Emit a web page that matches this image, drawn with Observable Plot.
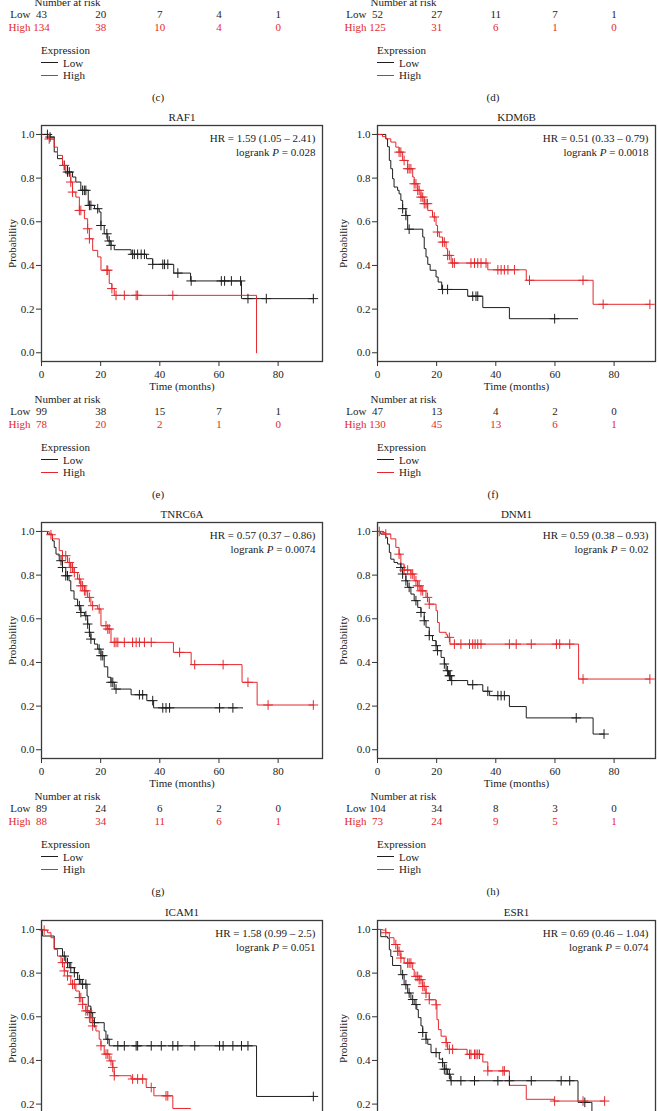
<!DOCTYPE html>
<html><head><meta charset="utf-8">
<script src="https://cdn.jsdelivr.net/npm/d3@7"></script>
<script src="https://cdn.jsdelivr.net/npm/@observablehq/plot@0.6"></script>
<style>
body{margin:0;background:#fff;}
#page{position:relative;width:659px;height:1111px;overflow:hidden;background:#fff;font-family:"Liberation Serif","Times New Roman",serif;color:#222;}
.legend{position:absolute;font-size:11px;line-height:12.5px;white-space:nowrap;}
.legend .row{display:flex;align-items:center;}
.legend .sw{display:inline-block;width:17px;height:0;border-top:1.2px solid;margin-right:5px;}
.plabel{position:absolute;font-size:11px;transform:translateX(-50%);}
</style></head><body><div id="page"></div>
<script>
const RED = "#e5282d", BLACK = "#1e1e1e";
const timeTicks = [0, 20, 40, 60, 80];
const probTicks = [0, 0.2, 0.4, 0.6, 0.8, 1.0];
const groupNames = ["Low", "High"];

// ---- at-risk tables ----
const riskC_low = [43, 20, 7, 4, 1], riskC_high = [134, 38, 10, 4, 0];
const riskD_low = [52, 27, 11, 7, 1], riskD_high = [125, 31, 6, 1, 0];
const riskE_low = [99, 38, 15, 7, 1], riskE_high = [78, 20, 2, 1, 0];
const riskF_low = [47, 13, 4, 2, 0], riskF_high = [130, 45, 13, 6, 1];
const riskG_low = [89, 24, 6, 2, 0], riskG_high = [88, 34, 11, 6, 1];
const riskH_low = [104, 34, 8, 3, 0], riskH_high = [73, 24, 9, 5, 1];

// ---- RAF1 ----
const raf1Low = [[0,1],[2.9,0.988],[4.3,0.92],[5.4,0.889],[7.1,0.858],[8.8,0.828],[10.5,0.805],[11.6,0.782],[13.3,0.744],[15.8,0.675],[17.9,0.66],[19.5,0.645],[20.1,0.583],[21.2,0.545],[22.4,0.512],[23.5,0.492],[24.6,0.472],[30.3,0.451],[35.5,0.431],[37.6,0.405],[44.7,0.365],[50.4,0.329],[67.6,0.248],[91.9,0.248]];
const raf1LowCens = [2.0,2.9,7.7,8.8,9.4,13.9,14.5,15.0,16.2,16.7,19.0,20.1,22.1,22.9,23.5,30.8,31.4,32.5,33.7,34.8,37.6,41.0,41.6,42.7,46.1,50.6,60.8,61.9,64.2,67.3,69.8,76.0,91.9];
const raf1High = [[0,1],[2.6,0.979],[4.3,0.942],[5.4,0.904],[7.1,0.858],[8.2,0.82],[9.9,0.782],[10.5,0.736],[11.6,0.713],[12.8,0.652],[14.5,0.614],[15.6,0.568],[16.2,0.522],[17.3,0.469],[19.0,0.439],[20.1,0.378],[22.9,0.317],[23.8,0.294],[24.6,0.263],[72.7,0]];
const raf1HighCens = [2.6,7.7,9.9,10.5,12.8,13.3,15.6,16.2,22.1,22.4,23.8,25.2,28.0,32.0,32.5,44.4];

// ---- KDM6B ----
const kdm6bLow = [[0,1],[2.8,0.98],[3.4,0.944],[4.0,0.881],[4.5,0.843],[5.1,0.797],[5.6,0.759],[6.8,0.744],[7.3,0.728],[7.9,0.698],[8.5,0.66],[9.6,0.629],[10.2,0.566],[15.3,0.53],[15.8,0.477],[16.4,0.439],[17.0,0.405],[17.8,0.378],[19.8,0.347],[20.5,0.324],[21.7,0.29],[30.5,0.259],[35.6,0.207],[44.6,0.156],[67.8,0.156]];
const kdm6bLowCens = [8.5,9.6,10.7,22.0,23.7,32.2,33.3,33.9,59.9];
const kdm6bHigh = [[0,1],[1.7,0.99],[2.8,0.98],[4.5,0.965],[6.2,0.942],[7.3,0.919],[8.5,0.881],[10.2,0.843],[11.9,0.805],[12.4,0.774],[13.6,0.744],[14.7,0.713],[15.8,0.683],[17.0,0.652],[18.6,0.622],[19.8,0.583],[20.3,0.553],[20.9,0.53],[22.0,0.507],[23.2,0.477],[23.7,0.446],[24.9,0.411],[37.3,0.38],[50.3,0.332],[72.9,0.222],[92.1,0.222]];
const kdm6bHighCens = [7.3,7.9,9.0,10.2,10.7,11.3,12.4,13.0,13.6,14.1,14.7,15.3,15.8,16.4,16.9,19.2,20.3,22.0,22.6,23.7,24.3,25.4,26.0,31.6,32.8,33.9,35.0,36.7,40.7,41.8,42.9,44.1,46.3,51.4,69.5,76.3,92.1];

// ---- TNRC6A ----
const tnrc6aLow = [[0,1],[2.0,0.988],[3.7,0.957],[4.3,0.927],[4.9,0.896],[6.0,0.866],[7.1,0.835],[8.2,0.797],[9.3,0.774],[9.9,0.728],[11.0,0.69],[12.2,0.66],[13.3,0.629],[14.5,0.614],[15.6,0.576],[16.2,0.538],[16.7,0.507],[17.9,0.484],[19.0,0.461],[20.1,0.431],[21.2,0.38],[22.4,0.332],[23.5,0.309],[24.6,0.278],[30.3,0.252],[35.6,0.225],[37.9,0.192],[68.1,0.192]];
const tnrc6aLowCens = [6.6,7.1,8.2,8.8,12.8,13.3,15.0,15.6,16.2,16.7,19.5,20.1,20.7,23.5,24.1,25.2,33.1,34.2,37.6,41.0,42.1,43.3,60.2,64.7];
const tnrc6aHigh = [[0,1],[2.6,0.985],[3.7,0.966],[6.0,0.912],[7.1,0.889],[8.8,0.858],[9.9,0.835],[11.0,0.812],[12.2,0.782],[13.3,0.751],[14.5,0.728],[15.6,0.698],[16.7,0.66],[19.0,0.645],[20.1,0.568],[22.4,0.553],[23.5,0.492],[44.6,0.446],[50.6,0.39],[67.8,0.309],[72.9,0.205],[91.9,0.205]];
const tnrc6aHighCens = [3.2,7.1,8.2,9.4,9.9,10.5,11.1,12.8,13.3,13.9,14.5,15.0,16.2,17.3,19.5,21.8,22.4,22.9,24.6,25.2,25.8,28.0,30.8,32.0,33.1,34.8,37.1,46.7,51.8,61.4,69.8,76.6,91.9];

// ---- DNM1 ----
const dnm1Low = [[0,1],[1.1,0.988],[2.8,0.973],[3.4,0.942],[4.0,0.904],[4.5,0.873],[5.6,0.858],[6.8,0.851],[7.9,0.835],[8.5,0.805],[9.6,0.774],[10.2,0.744],[11.3,0.713],[12.4,0.683],[13.6,0.652],[14.7,0.629],[15.8,0.591],[16.4,0.561],[17.5,0.523],[18.6,0.5],[19.8,0.477],[20.3,0.454],[21.5,0.423],[22.6,0.393],[23.2,0.362],[24.0,0.339],[24.9,0.317],[30.5,0.298],[35.6,0.268],[37.9,0.248],[44.6,0.198],[50.3,0.146],[72.9,0.072],[76.6,0.072]];
const dnm1LowCens = [7.9,8.5,9.6,10.7,13.0,14.7,15.8,17.5,19.8,20.3,22.6,23.7,24.3,24.6,25.1,32.2,37.3,40.7,41.8,42.9,67.2,76.6];
const dnm1High = [[0,1],[1.7,0.995],[2.8,0.988],[4.5,0.966],[6.2,0.927],[7.3,0.896],[7.9,0.851],[9.0,0.823],[11.3,0.805],[12.4,0.774],[13.6,0.751],[14.7,0.728],[16.4,0.698],[17.5,0.667],[19.8,0.637],[20.3,0.583],[20.9,0.538],[23.2,0.527],[23.7,0.515],[24.5,0.484],[68.0,0.324],[92.1,0.324]];
const dnm1HighCens = [0.6,2.8,7.3,9.0,10.2,11.3,11.9,13.0,13.6,14.1,14.7,15.3,16.9,17.5,24.3,26.0,28.2,31.1,32.2,33.0,33.9,35.0,44.6,46.9,52.0,60.5,61.6,65.0,69.5,92.1];

// ---- ICAM1 ----
const icam1Low = [[0,1],[0.3,0.97],[4.3,0.912],[7.1,0.878],[8.2,0.848],[9.4,0.825],[11.1,0.802],[12.2,0.771],[13.3,0.749],[15.4,0.695],[15.8,0.649],[16.7,0.619],[17.3,0.581],[17.9,0.573],[21.2,0.535],[21.8,0.497],[22.9,0.467],[72.7,0.235],[91.9,0.235]];
const icam1LowCens = [7.7,8.8,9.9,11.1,12.8,13.9,15.0,16.7,17.9,22.4,25.8,28.0,32.0,32.5,37.1,40.5,44.4,46.1,51.8,60.2,61.4,64.7,67.6,69.8,91.9];
const icam1High = [[0,1],[0.9,0.997],[2.0,0.985],[3.2,0.962],[4.3,0.909],[5.4,0.878],[6.6,0.848],[7.7,0.81],[8.8,0.787],[9.9,0.749],[11.6,0.718],[12.8,0.688],[13.9,0.657],[15.0,0.627],[16.2,0.596],[17.3,0.558],[18.4,0.535],[19.5,0.497],[20.1,0.467],[21.2,0.429],[22.9,0.398],[24.1,0.368],[24.6,0.33],[30.3,0.315],[35.4,0.276],[38.0,0.238],[44.4,0.18],[50.4,0.18]];
const icam1HighCens = [0.9,7.1,7.7,8.8,10.5,11.1,12.8,13.3,13.9,15.0,15.6,16.2,16.7,17.3,20.1,21.8,22.4,23.5,24.1,24.6,30.8,32.5,34.2,37.1,42.1,42.7];

// ---- ESR1 ----
const esr1Low = [[0,1],[1.1,0.967],[3.4,0.96],[4.0,0.907],[4.5,0.876],[5.1,0.835],[7.9,0.793],[9.0,0.747],[10.2,0.709],[11.3,0.679],[12.4,0.656],[13.3,0.633],[13.8,0.596],[14.7,0.558],[15.3,0.528],[16.4,0.497],[17.0,0.474],[18.1,0.436],[20.9,0.406],[22.0,0.39],[22.6,0.36],[23.7,0.337],[24.6,0.307],[67.8,0.208],[72.5,0.15],[75.0,0.15]];
const esr1LowCens = [8.5,9.6,10.7,11.9,13.0,15.3,16.4,19.8,22.0,22.6,23.2,24.3,24.9,28.2,32.8,40.7,44.6,52.0,62.1,65.0,70.1];
const esr1High = [[0,1],[1.7,0.997],[2.8,0.985],[4.0,0.962],[5.6,0.931],[6.8,0.9],[7.9,0.869],[9.0,0.846],[11.9,0.816],[12.4,0.785],[14.1,0.77],[15.3,0.739],[16.4,0.708],[17.5,0.678],[19.8,0.655],[20.1,0.587],[20.6,0.541],[21.5,0.511],[23.2,0.482],[23.7,0.451],[30.3,0.428],[35.6,0.393],[37.3,0.352],[44.6,0.286],[50.3,0.222],[59.7,0.214],[76.8,0.214]];
const esr1HighCens = [2.8,6.2,6.8,7.3,7.9,10.2,10.7,11.3,13.0,13.6,14.1,14.7,15.3,15.8,16.4,17.5,19.8,23.2,24.3,25.4,31.1,31.6,32.8,33.3,33.9,34.5,37.3,42.4,42.9,59.9,69.5,76.8];

// ---- layout ----
const page = document.getElementById("page");
const rowBottoms = [-36, 361, 758, 1156];
const cols = [
  {left: 0, width: 330, ml: 41, mr: 8, xmax: 95, probDx: -29, labelX: 158},
  {left: 330, width: 329, ml: 47, mr: 4, xmax: 94, probDx: -34, labelX: 493}
];
const MT = 22, BOXH = 236, MB = 74;
const FONT = '"Liberation Serif","Times New Roman",serif';

function stepAt(curve, t) {
  let s = curve[0][1];
  for (const [ti, si] of curve) { if (ti <= t) s = si; else break; }
  return s;
}

function drawPanel(p) {
  const c = cols[p.col];
  const bottom = rowBottoms[p.row];
  const top = bottom - BOXH - MT;
  const marks = [];
  const T = {lineAnchor: "middle"};
  if (p.low) {
    const lowD = p.low.map(([t, s]) => ({t, s}));
    const highD = p.high.map(([t, s]) => ({t, s}));
    const lowC = p.lowCens.map(t => ({t, s: stepAt(p.low, t)}));
    const highC = p.highCens.map(t => ({t, s: stepAt(p.high, t)}));
    marks.push(
      Plot.axisX({ticks: timeTicks, tickSize: 5, tickPadding: 4, label: null, stroke: "#333"}),
      Plot.axisY({ticks: probTicks, tickSize: 5, tickPadding: 2, label: null, tickFormat: d3.format(".1f"), stroke: "#333"}),
      Plot.line(lowD, {x: "t", y: "s", curve: "step-after", stroke: BLACK, strokeWidth: 1}),
      Plot.line(highD, {x: "t", y: "s", curve: "step-after", stroke: RED, strokeWidth: 1}),
      Plot.dot(lowC, {x: "t", y: "s", symbol: "plus", r: 3.2, stroke: BLACK, strokeWidth: 1}),
      Plot.dot(highC, {x: "t", y: "s", symbol: "plus", r: 3.2, stroke: RED, strokeWidth: 1}),
      Plot.frame({stroke: "#3a3a3a", strokeWidth: 1.3}),
      Plot.text([p.gene], {...T, text: d => d, frameAnchor: "top", textAnchor: "middle", dy: -8}),
      Plot.text([p.hr], {...T, text: d => d, frameAnchor: "top-right", textAnchor: "end", dx: -7, dy: 13}),
      Plot.text([p.pval], {...T, text: d => "logrank P = " + d, frameAnchor: "top-right", textAnchor: "end", dx: -7, dy: 26.5, className: "ptext"}),
      Plot.text(["Probability"], {...T, text: d => d, frameAnchor: "left", textAnchor: "middle", rotate: -90, dx: c.probDx}),
      Plot.text(["Time (months)"], {...T, text: d => d, frameAnchor: "bottom", textAnchor: "middle", dy: 25})
    );
  }
  if (p.riskLow) {
    marks.push(
      Plot.text(["Number at risk"], {...T, text: d => d, frameAnchor: "bottom-left", textAnchor: "start", dx: -7, dy: 38}),
      Plot.text([groupNames[0]], {...T, text: d => d, frameAnchor: "bottom-left", textAnchor: "end", dx: -11, dy: 50, fill: BLACK}),
      Plot.text([groupNames[1]], {...T, text: d => d, frameAnchor: "bottom-left", textAnchor: "end", dx: -11, dy: 63, fill: RED}),
      Plot.text(p.riskLow, {...T, x: (d, i) => timeTicks[i], text: d => String(d), frameAnchor: "bottom", textAnchor: "middle", dy: 50, fill: BLACK}),
      Plot.text(p.riskHigh, {...T, x: (d, i) => timeTicks[i], text: d => String(d), frameAnchor: "bottom", textAnchor: "middle", dy: 63, fill: RED})
    );
  }
  const svg = Plot.plot({
    width: c.width, height: MT + BOXH + MB,
    marginLeft: c.ml, marginRight: c.mr, marginTop: MT, marginBottom: MB,
    x: {domain: [0, c.xmax], axis: p.low ? undefined : null},
    y: {domain: [-0.04, 1.041], axis: p.low ? undefined : null},
    style: {fontFamily: FONT, fontSize: "11px", color: "#222", background: "transparent", overflow: "visible"},
    marks
  });
  svg.style.position = "absolute";
  svg.style.left = c.left + "px";
  svg.style.top = top + "px";
  svg.style.maxWidth = "none";
  svg.querySelectorAll(".ptext text").forEach(t => {
    const v = p.pval;
    t.textContent = "";
    const ns = "http://www.w3.org/2000/svg";
    const a = document.createElementNS(ns, "tspan"); a.textContent = "logrank ";
    const b = document.createElementNS(ns, "tspan"); b.textContent = "P"; b.setAttribute("font-style", "italic");
    const d = document.createElementNS(ns, "tspan"); d.textContent = " = " + v;
    t.append(a, b, d);
  });
  page.appendChild(svg);

  if (p.label) {
    const lg = document.createElement("div");
    lg.className = "legend";
    lg.style.left = (c.left + c.ml) + "px";
    lg.style.top = (bottom + 80) + "px";
    lg.innerHTML = `<div>Expression</div>
      <div class="row"><span class="sw" style="border-color:${BLACK}"></span>${groupNames[0]}</div>
      <div class="row"><span class="sw" style="border-color:${RED}"></span>${groupNames[1]}</div>`;
    page.appendChild(lg);
    const pl = document.createElement("div");
    pl.className = "plabel";
    pl.style.left = c.labelX + "px";
    pl.style.top = (bottom + 127) + "px";
    pl.textContent = p.label;
    page.appendChild(pl);
  }
}

const panels = [
  {col: 0, row: 0, riskLow: riskC_low, riskHigh: riskC_high, label: "(c)"},
  {col: 1, row: 0, riskLow: riskD_low, riskHigh: riskD_high, label: "(d)"},
  {col: 0, row: 1, gene: "RAF1", hr: "HR = 1.59 (1.05 – 2.41)", pval: "0.028", low: raf1Low, high: raf1High, lowCens: raf1LowCens, highCens: raf1HighCens, riskLow: riskE_low, riskHigh: riskE_high, label: "(e)"},
  {col: 1, row: 1, gene: "KDM6B", hr: "HR = 0.51 (0.33 – 0.79)", pval: "0.0018", low: kdm6bLow, high: kdm6bHigh, lowCens: kdm6bLowCens, highCens: kdm6bHighCens, riskLow: riskF_low, riskHigh: riskF_high, label: "(f)"},
  {col: 0, row: 2, gene: "TNRC6A", hr: "HR = 0.57 (0.37 – 0.86)", pval: "0.0074", low: tnrc6aLow, high: tnrc6aHigh, lowCens: tnrc6aLowCens, highCens: tnrc6aHighCens, riskLow: riskG_low, riskHigh: riskG_high, label: "(g)"},
  {col: 1, row: 2, gene: "DNM1", hr: "HR = 0.59 (0.38 – 0.93)", pval: "0.02", low: dnm1Low, high: dnm1High, lowCens: dnm1LowCens, highCens: dnm1HighCens, riskLow: riskH_low, riskHigh: riskH_high, label: "(h)"},
  {col: 0, row: 3, gene: "ICAM1", hr: "HR = 1.58 (0.99 – 2.5)", pval: "0.051", low: icam1Low, high: icam1High, lowCens: icam1LowCens, highCens: icam1HighCens},
  {col: 1, row: 3, gene: "ESR1", hr: "HR = 0.69 (0.46 – 1.04)", pval: "0.074", low: esr1Low, high: esr1High, lowCens: esr1LowCens, highCens: esr1HighCens}
];
panels.forEach(drawPanel);
</script>
</body></html>
